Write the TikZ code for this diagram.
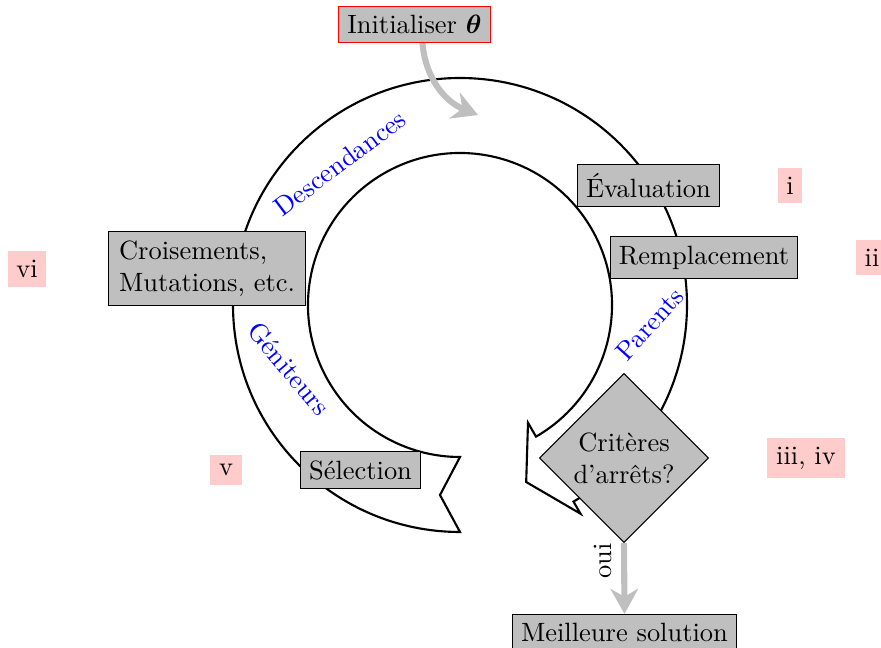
\documentclass[tikz,border=0pt]{standalone}
\usepackage{fontspec}
\usepackage{amsmath,bm}
\usetikzlibrary{shapes.geometric,arrows.meta}
\begin{document}
\begin{tikzpicture}[x=0.378pt,y=0.378pt,
  box/.style={draw=black, fill=gray!50, inner sep=3.33pt},
  tag/.style={fill=red!20, inner sep=3.33pt},
  arclabel/.style={text=blue},
  garrow/.style={draw=gray!50, line width=2.3pt, -{Stealth[length=9.5pt,width=10.5pt]}},
  ring/.style={draw=black, thick, line join=miter}]
\useasboundingbox (0,0) rectangle (881,-648);
\begin{scope}[shift={(460,-305)}]
\draw[ring] (270:152) -- (-20,-190) -- (270:227)
  arc[start angle=270,end angle=-60,radius=227]
  -- (-60:241) -- (-69.5:189) -- (-60:136) -- (-60:152)
  arc[start angle=-60,end angle=270,radius=152] -- cycle;
\end{scope}
\node[arclabel, rotate=37] (desc) at (340,-163) {Descendances};
\node[arclabel, rotate=-50] (gen) at (289,-369) {Géniteurs};
\node[arclabel, rotate=48] (par) at (650,-324) {Parents};
\node[box, draw=red] (init) at (414.5,-24.5) {Initialiser $\boldsymbol{\theta}$};
\node[box] (eval) at (648.5,-185.5) {Évaluation};
\node[box] (rempl) at (704,-257.5) {Remplacement};
\node[box, align=left, inner xsep=4pt] (crois) at (207,-268.5) {Croisements,\\Mutations, etc.};
\node[box] (sel) at (360.5,-470) {Sélection};
\node[box, diamond, aspect=1, inner sep=0pt, minimum size=64pt, align=center] (crit) at (624,-458) {Critères\\d'arrêts?};
\node[box] (best) at (624.5,-632.5) {Meilleure solution};
\node[tag] (t1) at (790,-186) {i};
\node[tag] (t2) at (872,-258) {ii};
\node[tag] (t3) at (806,-458) {iii, iv};
\node[tag] (t5) at (226,-470) {v};
\node[tag] (t6) at (27,-269) {vi};
\coordinate (inittip) at (478,-115);
\draw[garrow] ([xshift=3pt]init.south) to[out=-85,in=158] (inittip);
\draw[garrow] (crit.south) -- (best.north) node[pos=0.25, rotate=90, anchor=south, text=black] {oui};
\end{tikzpicture}
\end{document}
